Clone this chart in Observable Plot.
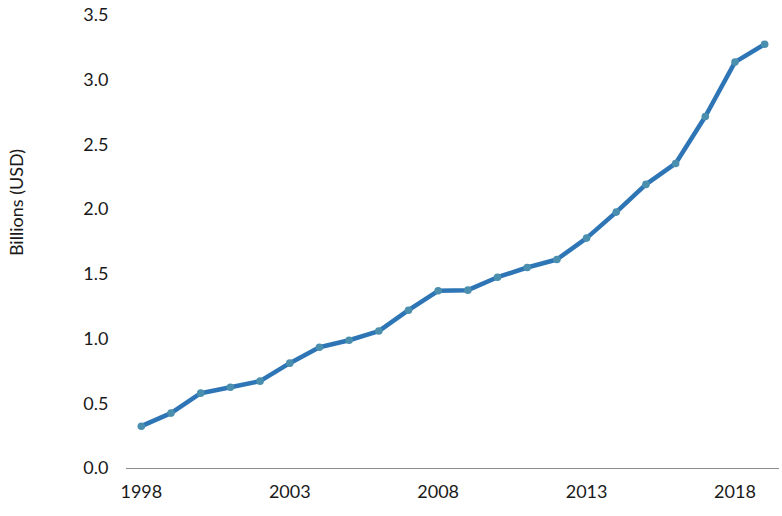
<!DOCTYPE html>
<html>
<head>
<meta charset="utf-8">
<script src="https://cdn.jsdelivr.net/npm/d3@7"></script>
<script src="https://cdn.jsdelivr.net/npm/@observablehq/plot@0.6"></script>
<style>
  html, body { margin: 0; padding: 0; background: #fff; }
  #chart svg { display: block; font-family: Lato, "Open Sans", sans-serif; }
</style>
</head>
<body>
<div id="chart"></div>
<script>
const years = [1998,1999,2000,2001,2002,2003,2004,2005,2006,2007,2008,2009,2010,2011,2012,2013,2014,2015,2016,2017,2018,2019];
const values = [0.327,0.428,0.582,0.628,0.675,0.814,0.937,0.991,1.062,1.223,1.373,1.378,1.478,1.553,1.615,1.780,1.981,2.195,2.357,2.720,3.140,3.278];
const xTicks = [1998,2003,2008,2013,2018];
const yTicks = [0,0.5,1,1.5,2,2.5,3,3.5];
const yLabel = "Billions (USD)";

const data = years.map((y, i) => ({year: y, value: values[i]}));

const chart = Plot.plot({
  width: 782,
  height: 516,
  marginLeft: 126,
  marginRight: 3,
  marginTop: 15,
  marginBottom: 48,
  style: {fontFamily: "Lato, 'Open Sans', sans-serif", fontSize: "18px", color: "#1a1a1a"},
  x: {domain: [1997.5, 2019.5], label: null},
  y: {domain: [0, 3.5], label: null},
  marks: [
    Plot.ruleY([0], {stroke: "#8c8c8c", strokeWidth: 1.2}),
    Plot.axisY({ticks: yTicks, tickFormat: d => d.toFixed(1), tickSize: 0, tickPadding: 18, label: null, fontSize: 18}),
    Plot.axisX({ticks: xTicks, tickFormat: d => String(d), tickSize: 0, tickPadding: 17, label: null, fontSize: 18}),
    Plot.line(data, {x: "year", y: "value", stroke: "#2E75B6", strokeWidth: 4.5, strokeLinejoin: "round", strokeLinecap: "round"}),
    Plot.dot(data, {x: "year", y: "value", r: 3.8, fill: "#4A8FAE", stroke: "none"}),
    Plot.text([yLabel], {frameAnchor: "left", textAnchor: "middle", dx: -109, dy: -39.5, rotate: -90, text: d => d, fontSize: 18, fill: "#1a1a1a"})
  ]
});
document.getElementById("chart").appendChild(chart);
</script>
</body>
</html>
